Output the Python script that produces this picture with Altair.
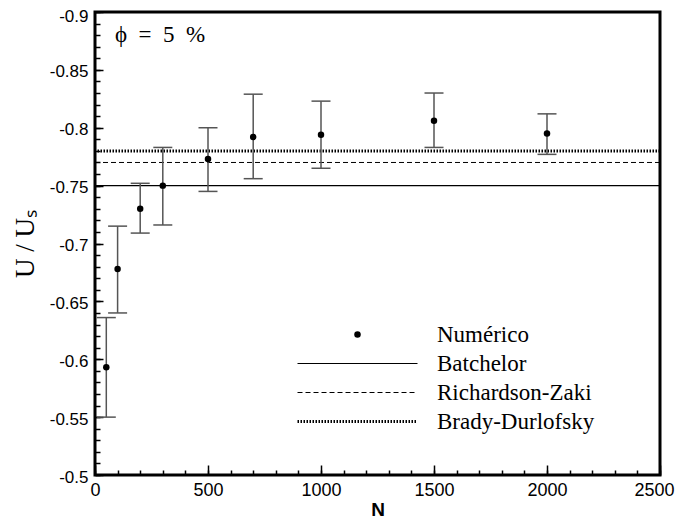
import altair as alt
import pandas as pd

# ---- data ----
N = [50, 100, 200, 300, 500, 700, 1000, 1500, 2000]
U_mean = [-0.593, -0.678, -0.730, -0.750, -0.773, -0.792, -0.794, -0.806, -0.795]
U_top = [-0.636, -0.715, -0.752, -0.783, -0.800, -0.829, -0.823, -0.830, -0.812]
U_bottom = [-0.550, -0.640, -0.709, -0.716, -0.745, -0.756, -0.765, -0.783, -0.777]

line_names = ["Batchelor", "Richardson-Zaki", "Brady-Durlofsky"]
line_values = [-0.75, -0.77, -0.78]

series = ["Numérico"] + line_names

x_major = [0, 500, 1000, 1500, 2000, 2500]
x_minor = [0, 100, 200, 300, 400, 500, 600, 700, 800, 900, 1000, 1100, 1200,
           1300, 1400, 1500, 1600, 1700, 1800, 1900, 2000, 2100, 2200, 2300, 2400, 2500]
y_major = [-0.9, -0.85, -0.8, -0.75, -0.7, -0.65, -0.6, -0.55, -0.5]
y_minor = [round(-0.9 + 0.01 * i, 2) for i in range(41)]

# annotation text, anchored in data coordinates (N, U/Us)
annotation_text = ["\u03d5\u2002=\u20025\u2002%"]
annotation_N = [88]
annotation_U = [-0.874]

SANS = "Liberation Sans"
SERIF = "Liberation Serif"

pts = pd.DataFrame({"N": N, "U": U_mean, "hi": U_top, "lo": U_bottom, "serie": "Numérico"})
lines_df = pd.DataFrame({"serie": line_names, "U": line_values})
ann_df = pd.DataFrame({"text": annotation_text, "N": annotation_N, "U": annotation_U})

xscale = alt.Scale(domain=[0, 2500], nice=False, zero=False)
yscale = alt.Scale(domain=[-0.9, -0.5], nice=False, zero=False, reverse=True)


def tick_axis(orient, values, size):
    return alt.Axis(orient=orient, values=values, tickSize=size, offset=-size,
                    labels=False, domain=False, grid=False, ticks=True,
                    tickColor="black", tickWidth=1.5, title=None)


x_label_axis = alt.Axis(orient="bottom", values=x_major[:-1], format="d",
                        labelFont=SANS, labelFontSize=18, labelColor="black",
                        labelPadding=6, labelFlush=False, labelOverlap=False,
                        ticks=False, domain=False, grid=False,
                        title="N", titleFont=SANS, titleFontSize=19,
                        titleFontWeight="bold", titleColor="black", titlePadding=1)

x_last_label_axis = alt.Axis(orient="bottom", values=x_major[-1:], format="d",
                             labelFont=SANS, labelFontSize=18, labelColor="black",
                             labelPadding=6, labelFlush=False, labelOverlap=False,
                             labelAlign="right", labelOffset=14,
                             ticks=False, domain=False, grid=False, title=None)

y_label_axis = alt.Axis(orient="left", values=y_major,
                        labelExpr="'-' + format(abs(datum.value), '.2~f')",
                        labelFont=SANS, labelFontSize=17, labelColor="black",
                        labelPadding=7,
                        labelOffset={"condition": {"test": "datum.value < -0.89", "value": 4.6},
                                     "value": 2},
                        labelFlush=False, labelOverlap=False,
                        ticks=False, domain=False, grid=False,
                        title="U / U\u209b", titleFont=SERIF, titleFontSize=27,
                        titleFontWeight="normal", titleColor="black", titlePadding=10)

line_styles = [
    dict(strokeWidth=1.2),
    dict(strokeWidth=1, strokeDash=[5, 3]),
    dict(strokeWidth=3, strokeDash=[1.5, 1.5]),
]

line_layers = []
for i, (name, st) in enumerate(zip(line_names, line_styles)):
    line_layers.append(
        alt.Chart(lines_df).transform_filter(alt.datum.serie == name)
        .mark_rule(color="black", **st)
        .encode(y=alt.Y("U:Q", scale=yscale, axis=y_label_axis if i == 0 else None))
    )

err = alt.Chart(pts).mark_rule(color="#555555", strokeWidth=1.5).encode(
    x=alt.X("N:Q", scale=xscale, axis=x_label_axis),
    y=alt.Y("hi:Q", scale=yscale, axis=tick_axis("left", y_major, 8)),
    y2="lo:Q",
)

cap_hi = alt.Chart(pts).mark_tick(orient="horizontal", size=19, thickness=1.5,
                                  color="#555555", opacity=1).encode(
    x=alt.X("N:Q", scale=xscale, axis=tick_axis("bottom", x_major, 10)),
    y=alt.Y("hi:Q", scale=yscale, axis=tick_axis("left", y_minor, 5)),
)

cap_lo = alt.Chart(pts).mark_tick(orient="horizontal", size=19, thickness=1.5,
                                  color="#555555", opacity=1).encode(
    x=alt.X("N:Q", scale=xscale, axis=tick_axis("bottom", x_minor, 5)),
    y=alt.Y("lo:Q", scale=yscale, axis=None),
)

legend = alt.Legend(title=None, orient="none", legendX=201, legendY=312,
                    padding=0, offset=0, direction="vertical",
                    labelFont=SERIF, labelFontSize=23, labelColor="black",
                    labelOffset=18, labelLimit=400, clipHeight=21, rowPadding=5,
                    symbolStrokeColor="black", symbolOpacity=1)

points = alt.Chart(pts).mark_point(filled=True, color="black", stroke="black", opacity=1).encode(
    x=alt.X("N:Q", scale=xscale, axis=x_last_label_axis),
    y=alt.Y("U:Q", scale=yscale, axis=None),
    shape=alt.Shape("serie:N", scale=alt.Scale(domain=series,
                    range=["circle", "stroke", "stroke", "stroke"]), legend=legend),
    size=alt.Size("serie:N", scale=alt.Scale(type="ordinal", domain=series,
                  range=[42, 14400, 14400, 14400])),
    strokeDash=alt.StrokeDash("serie:N", scale=alt.Scale(domain=series,
                              range=[[1, 0], [1, 0], [5, 3], [1.5, 1.5]])),
    strokeWidth=alt.StrokeWidth("serie:N", scale=alt.Scale(type="ordinal", domain=series,
                                range=[0, 1.2, 1, 3])),
)

annotation = alt.Chart(ann_df).mark_text(font=SERIF, fontSize=23, color="black",
                                          align="left", baseline="alphabetic").encode(
    x=alt.X("N:Q", scale=xscale, axis=None),
    y=alt.Y("U:Q", scale=yscale, axis=None),
    text="text:N",
)

chart = (
    alt.layer(*line_layers, err, cap_hi, cap_lo, points, annotation)
    .resolve_axis(x="independent", y="independent")
    .properties(
        width=565, height=463,
        padding={"left": 87, "top": 4, "right": 15, "bottom": 45},
        autosize=alt.AutoSizeParams(type="none"),
    )
    .configure_view(stroke="black", strokeWidth=3)
    .configure_axis(grid=False)
    .configure_legend(labelFont=SERIF, labelFontSize=23, labelColor="black")
)

chart.save("out.html", embed_options={"renderer": "svg", "actions": False})
